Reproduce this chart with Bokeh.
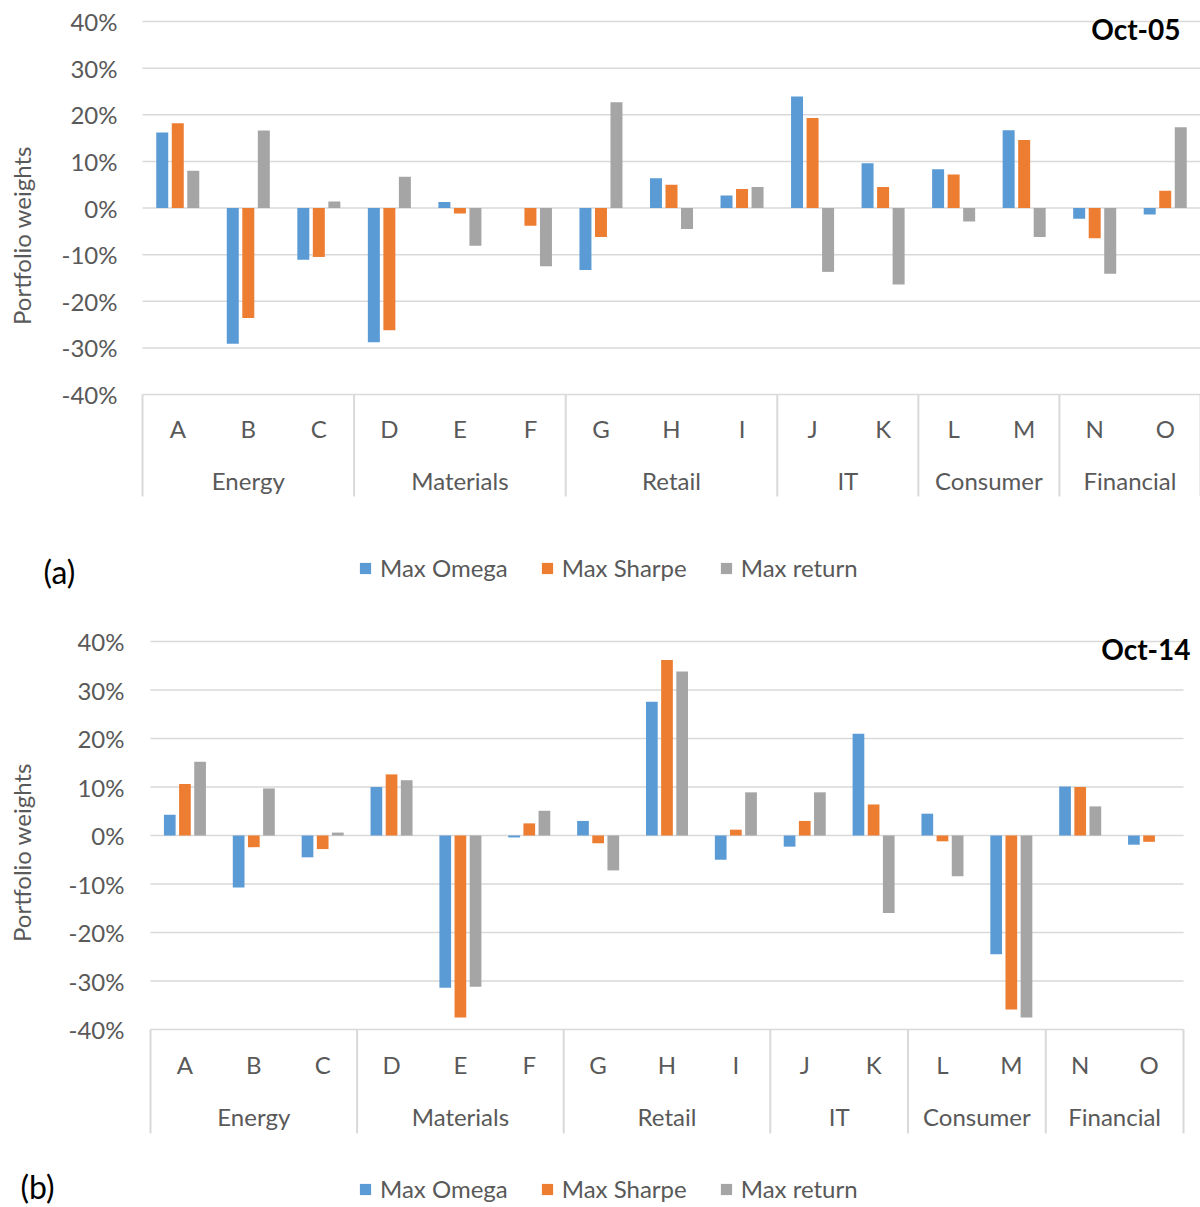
import math
from bokeh.plotting import figure
from bokeh.models import ColumnDataSource, Legend, LegendItem, Label, Range1d
from bokeh.layouts import column
from bokeh.embed import file_html
from bokeh.resources import INLINE
from bokeh.core.properties import value

# ---------------- data ----------------
letters = list("ABCDEFGHIJKLMNO")
sectors = ["Energy"] * 3 + ["Materials"] * 3 + ["Retail"] * 3 + ["IT"] * 2 + ["Consumer"] * 2 + ["Financial"] * 2
sector_names = ["Energy", "Materials", "Retail", "IT", "Consumer", "Financial"]
series_names = ["Max Omega", "Max Sharpe", "Max return"]
y_ticks = [-0.4, -0.3, -0.2, -0.1, 0.0, 0.1, 0.2, 0.3, 0.4]
y_tick_labels = ["-40%", "-30%", "-20%", "-10%", "0%", "10%", "20%", "30%", "40%"]

# Oct-05 (panel a), weights in %
omega_05 = [16.2, -29.1, -11.1, -28.8, 1.3, 0.0, -13.3, 6.4, 2.7, 23.9, 9.6, 8.3, 16.7, -2.3, -1.4]
sharpe_05 = [18.2, -23.6, -10.5, -26.2, -1.2, -3.8, -6.2, 5.0, 4.1, 19.3, 4.5, 7.2, 14.6, -6.5, 3.7]
return_05 = [8.0, 16.6, 1.4, 6.7, -8.1, -12.5, 22.7, -4.5, 4.5, -13.7, -16.4, -2.9, -6.2, -14.1, 17.3]

# Oct-14 (panel b), weights in %
omega_14 = [4.3, -10.7, -4.5, 10.0, -31.4, -0.4, 3.0, 27.6, -5.0, -2.3, 21.0, 4.5, -24.5, 10.1, -1.9]
sharpe_14 = [10.6, -2.4, -2.8, 12.6, -37.5, 2.5, -1.6, 36.2, 1.2, 3.0, 6.4, -1.2, -35.9, 10.0, -1.3]
return_14 = [15.2, 9.7, 0.6, 11.4, -31.2, 5.1, -7.2, 33.8, 8.9, 8.9, -16.0, -8.4, -37.5, 6.0, 0.0]

# ---------------- style ----------------
COLORS = ["#5B9BD5", "#ED7D31", "#A5A5A5"]
GRID = "#D9D9D9"
TXT = "#595959"
FONT = "Lato"
PAGE_M = 0
FIG_W = 1200
BAR_W = 0.17
OFFSETS = [-0.22, 0.0, 0.22]


def make_panel(series, tag, date_label, g):
    top = g["top_page"]
    H = g["height"]
    n = len(letters)
    cw = (g["cat_right_page"] - g["cat_left_page"]) / n
    x0 = -(g["cat_left_page"] - PAGE_M) / cw
    x1 = x0 + FIG_W / cw
    y40 = g["y40_page"] - top
    ym40 = g["ym40_page"] - top
    k = 0.8 / (ym40 - y40)

    def py(page_y):
        return 0.4 - ((page_y - top) - y40) * k

    def px(page_x):
        return x0 + (page_x - PAGE_M) / cw

    p = figure(width=FIG_W, height=H, x_range=Range1d(x0, x1),
               y_range=Range1d(py(top + H), py(top)),
               output_backend="svg", toolbar_location=None,
               x_axis_location=None, y_axis_location=None,
               min_border_left=0, min_border_right=0, min_border_top=0, min_border_bottom=0)
    p.outline_line_color = None
    p.background_fill_color = None
    p.border_fill_color = None
    p.grid.visible = False

    # horizontal gridlines (the -40% one doubles as the category axis line)
    grid_src = ColumnDataSource(dict(y=y_ticks, xs=[0] * len(y_ticks), xe=[n] * len(y_ticks)))
    p.segment(x0="xs", x1="xe", y0="y", y1="y", source=grid_src, line_color=GRID, line_width=1.5)

    # value tick labels
    tick_src = ColumnDataSource(dict(x=[px(g["tick_right_page"])] * len(y_ticks), y=y_ticks,
                                     t=y_tick_labels))
    p.text(x="x", y="y", text="t", source=tick_src, text_align="right", text_baseline="middle",
           text_font=value(FONT), text_font_size="24px", text_color=TXT)

    # bars
    idx = list(range(n))
    rends = []
    for vals, off, color in zip(series, OFFSETS, COLORS):
        src = ColumnDataSource(dict(x=[i + 0.5 + off for i in idx], top=[v / 100 for v in vals]))
        r = p.vbar(x="x", top="top", bottom=0, width=BAR_W, source=src,
                   fill_color=color, line_color=None)
        rends.append(r)

    # category labels (letters)
    lab_src = ColumnDataSource(dict(x=[i + 0.5 for i in idx], y=[py(g["letter_page"])] * n, t=letters))
    p.text(x="x", y="y", text="t", source=lab_src, text_align="center", text_baseline="middle",
           text_font=value(FONT), text_font_size="24px", text_color=TXT)

    # sector labels + separators
    gx, sep_x = [], [0]
    for s in sector_names:
        members = [i for i, ss in enumerate(sectors) if ss == s]
        gx.append((members[0] + members[-1] + 1) / 2)
        sep_x.append(members[-1] + 1)
    grp_src = ColumnDataSource(dict(x=gx, y=[py(g["sector_page"])] * len(gx), t=sector_names))
    p.text(x="x", y="y", text="t", source=grp_src, text_align="center", text_baseline="middle",
           text_font=value(FONT), text_font_size="24px", text_color=TXT)
    sep_src = ColumnDataSource(dict(x=sep_x, y0=[-0.4] * len(sep_x),
                                    y1=[py(g["sep_end_page"])] * len(sep_x)))
    p.segment(x0="x", x1="x", y0="y0", y1="y1", source=sep_src, line_color=GRID, line_width=2)

    # legend (frame == whole canvas, so screen coords are canvas coords from bottom-left)
    lx = g["legend_left_page"] - PAGE_M
    ly = H - (g["legend_bottom_page"] - top)
    legend = Legend(items=[LegendItem(label=nm, renderers=[r]) for nm, r in zip(series_names, rends)],
                    orientation="horizontal", location=(lx, ly),
                    glyph_width=14, glyph_height=14, label_standoff=8, spacing=32,
                    padding=0, margin=0, border_line_color=None, background_fill_alpha=0,
                    label_text_font=FONT, label_text_font_size="24px", label_text_color=TXT)
    p.add_layout(legend)

    def sx(page_x):
        return page_x - PAGE_M

    def sy(page_y):
        return H - (page_y - top)

    p.add_layout(Label(x=sx(g["date_right"]), y=sy(g["date_y"]), x_units="screen", y_units="screen",
                       text=date_label, text_align="right", text_baseline="middle",
                       text_font=FONT, text_font_size="28px", text_font_style="bold",
                       text_color="#000000"))
    p.add_layout(Label(x=sx(g["tag_x"]), y=sy(g["tag_y"]), x_units="screen", y_units="screen",
                       text=tag, text_align="center", text_baseline="middle",
                       text_font=FONT, text_font_size="32px", text_color="#000000"))
    p.add_layout(Label(x=sx(21), y=sy(g["ylabel_y"]), x_units="screen", y_units="screen",
                       text="Portfolio weights", text_align="center", text_baseline="middle",
                       angle=math.pi / 2, text_font=FONT, text_font_size="24px",
                       text_color=TXT))
    return p


geom_a = dict(top_page=0, height=608, cat_left_page=142, cat_right_page=1200,
              y40_page=21, ym40_page=394, letter_page=428, sector_page=480, sep_end_page=496,
              tick_right_page=117, legend_left_page=358, legend_bottom_page=582,
              date_right=1180, date_y=28, tag_x=59, tag_y=571, ylabel_y=235)
geom_b = dict(top_page=608, height=599, cat_left_page=150, cat_right_page=1183,
              y40_page=641, ym40_page=1029, letter_page=1064, sector_page=1116, sep_end_page=1133,
              tick_right_page=124, legend_left_page=358, legend_bottom_page=1203,
              date_right=1190, date_y=648, tag_x=37, tag_y=1186, ylabel_y=852)

p1 = make_panel([omega_05, sharpe_05, return_05], "(a)", "Oct-05", geom_a)
p2 = make_panel([omega_14, sharpe_14, return_14], "(b)", "Oct-14", geom_b)

layout = column(p1, p2, spacing=0)
open("out.html", "w").write(file_html(layout, INLINE))
